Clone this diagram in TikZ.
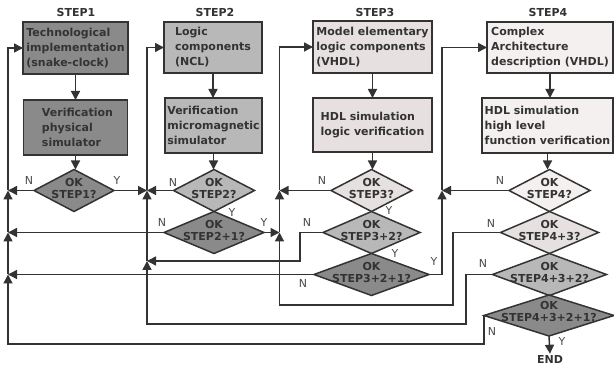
\documentclass[tikz,border=0pt]{standalone}
\usepackage{fontspec}
\setmainfont{DejaVu Sans}
\usetikzlibrary{shapes.geometric,arrows.meta}
\definecolor{lc}{HTML}{333333}
\definecolor{fa}{HTML}{8A8A8A}
\definecolor{fb}{HTML}{B8B8B8}
\definecolor{fc}{HTML}{E6E0E0}
\definecolor{fd}{HTML}{F5F0F0}
\definecolor{lab}{HTML}{4A4A4A}
\tikzset{
  boxnode/.style={draw=lc, rectangle, inner sep=0pt, outer sep=0pt, align=left,
    font=\bfseries\fontsize{11}{15}\selectfont, text=lc, line width=1.5pt},
  dia/.style={draw=lc, diamond, inner sep=0pt, outer sep=0pt, minimum height=42pt, line width=1.5pt},
  dtxt/.style={align=center, font=\bfseries\fontsize{11}{12.5}\selectfont, text=lc, inner sep=0pt},
  lbl/.style={font=\fontsize{11}{11}\selectfont, text=lab, inner sep=0pt},
  ttl/.style={font=\bfseries\fontsize{11}{11}\selectfont, text=lc, inner sep=0pt},
  conn/.style={draw=lc, line width=1.5pt, -{Triangle[length=9pt,width=9pt]}},
}
\begin{document}
\begin{tikzpicture}[x=1pt,y=-1pt]
\useasboundingbox (0,0) rectangle (614,366);
% titles
\node[ttl] (t1) at (76,12) {STEP1};
\node[ttl] (t2) at (215,12) {STEP2};
\node[ttl] (t3) at (375,12) {STEP3};
\node[ttl] (t4) at (548,12) {STEP4};
% boxes
\node[boxnode, fill=fa, minimum width=105pt, minimum height=52pt] (b1) at (75.5,48) {Technological\\implementation\\(snake-clock)};
\node[boxnode, fill=fa, minimum width=104pt, minimum height=55pt] (b1b) at (75.5,127.5) {\hspace*{4pt}Verification\\\hspace*{4pt}physical\\\hspace*{4pt}simulator};
\node[boxnode, fill=fb, minimum width=98pt, minimum height=51pt] (b2) at (213,47.5) {Logic\\components\\(NCL)};
\node[boxnode, fill=fb, minimum width=97pt, minimum height=55pt] (b2b) at (213.5,125.5) {Verification\\micromagnetic\\simulator};
\node[boxnode, fill=fc, minimum width=119pt, minimum height=52pt] (b3) at (372.5,47) {Model elementary\\logic components\\(VHDL)};
\node[boxnode, fill=fc, minimum width=119pt, minimum height=54pt] (b3b) at (372.5,125) {HDL simulation\\logic verification};
\node[boxnode, fill=fd, minimum width=126pt, minimum height=51pt] (b4) at (550,47.5) {Complex\\Architecture\\description (VHDL)};
\node[boxnode, fill=fd, minimum width=131pt, minimum height=55pt] (b4b) at (547.5,125.5) {HDL simulation\\high level\\function verification};
% diamonds
\node[dia, fill=fa, minimum width=80pt] (d1) at (74,190.5) {};
\node[dia, fill=fb, minimum width=81pt] (d2) at (214,190.5) {};
\node[dia, fill=fa, minimum width=100pt] (d21) at (214,232.5) {};
\node[dia, fill=fc, minimum width=81pt] (d3) at (371.5,190.5) {};
\node[dia, fill=fb, minimum width=97pt] (d32) at (371.5,232.5) {};
\node[dia, fill=fa, minimum width=115pt] (d321) at (371.5,274.5) {};
\node[dia, fill=fd, minimum width=81pt] (d4) at (549.5,190.5) {};
\node[dia, fill=fc, minimum width=98pt] (d43) at (549.5,232.5) {};
\node[dia, fill=fb, minimum width=114pt] (d432) at (549.5,274.5) {};
\node[dia, fill=fa, minimum width=130pt, minimum height=41pt] (d4321) at (549,315.5) {};
% diamond texts
\node[dtxt, yshift=2pt] (x1) at (d1) {OK\\STEP1?};
\node[dtxt, yshift=2pt] (x2) at (d2) {OK\\STEP2?};
\node[dtxt, yshift=2pt] (x21) at (d21) {OK\\STEP2+1?};
\node[dtxt, yshift=2pt] (x3) at (d3) {OK\\STEP3?};
\node[dtxt, yshift=2pt] (x32) at (d32) {OK\\STEP3+2?};
\node[dtxt, yshift=2pt] (x321) at (d321) {OK\\STEP3+2+1?};
\node[dtxt, yshift=2pt] (x4) at (d4) {OK\\STEP4?};
\node[dtxt, yshift=2pt] (x43) at (d43) {OK\\STEP4+3?};
\node[dtxt, yshift=2pt] (x432) at (d432) {OK\\STEP4+3+2?};
\node[dtxt, yshift=4pt] (x4321) at (d4321) {OK\\STEP4+3+2+1?};
\node[ttl, inner sep=1pt] (end) at (550,359) {END};
% junctions
\coordinate (j1a) at (8,190.5);
\coordinate (j1b) at (8,232.5);
\coordinate (j1c) at (8,274.5);
\coordinate (j2a) at (147,190.5);
\coordinate (j2b) at (147,261);
\coordinate (j3a) at (279.5,190.5);
\coordinate (j3b) at (279.5,232.5);
\coordinate (j4a) at (442,190.5);
% vertical flow
\draw[conn] (b1.south) -- (b1.south |- b1b.north);
\draw[conn] (b1b.south) -- (b1b.south |- d1.north);
\draw[conn] (b2.south) -- (b2.south |- b2b.north);
\draw[conn] (b2b.south) -- (b2b.south |- d2.north);
\draw[conn] (b3.south) -- (b3.south |- b3b.north);
\draw[conn] (b3b.south) -- (b3b.south |- d3.north);
\draw[conn] (b4.south) -- (b4.south |- b4b.north);
\draw[conn] (b4b.south) -- (b4b.south |- d4.north);
\draw[conn] (d4321.south) -- (end.north);
% feeds into boxes
\draw[conn] (j1a) |- (b1.west);
\draw[conn] (j2a) |- (b2.west);
\draw[conn] (j3a) |- (b3.west);
\draw[conn] (j4a) |- (b4.west);
% up segments
\draw[conn] (j1c) -- (j1b);
\draw[conn] (j1b) -- (j1a);
\draw[conn] (j2b) -- (j2a);
\draw[conn] (j3b) -- (j3a);
% decisions
\draw[conn] (d1.west) -- (j1a);
\draw[conn] (d1.east) -- (j2a);
\draw[conn] (d2.west) -- (j2a);
\draw[conn] (d21.west) -- (j1b);
\draw[conn] (d21.east) -- (j3b);
\draw[conn] (d3.west) -- (j3a);
\draw[conn] (d32.west) -- (300,232.5) |- (j2b);
\draw[conn] (d321.west) -- (j1c);
\draw[conn] (d321.east) -| (j4a);
\draw[conn] (d4.west) -- (j4a);
\draw[conn] (d43.west) -- (453,232.5) -- (453,305) -| (j3b);
\draw[conn] (d432.west) -- (466,274.5) -- (466,324) -| (j2b);
\draw[conn] (d4321.west) -- (484,344) -| (j1c);
% labels
\node[lbl] (n1) at (29,180) {N};
\node[lbl] (y1) at (117,180) {Y};
\node[lbl] (n2) at (173,182) {N};
\node[lbl] (y2) at (232,212) {Y};
\node[lbl] (n21) at (162,222) {N};
\node[lbl] (y21) at (264,222) {Y};
\node[lbl] (n3) at (322,180) {N};
\node[lbl] (y3) at (389,210) {Y};
\node[lbl] (n32) at (307,222) {N};
\node[lbl] (y32) at (395,253) {Y};
\node[lbl] (n321) at (303,283) {N};
\node[lbl] (y321) at (434,261) {Y};
\node[lbl] (n4) at (500,180) {N};
\node[lbl] (n43) at (491,223) {N};
\node[lbl] (n432) at (483,263) {N};
\node[lbl] (n4321) at (492,331) {N};
\node[lbl] (yend) at (562,341) {Y};
\end{tikzpicture}
\end{document}
